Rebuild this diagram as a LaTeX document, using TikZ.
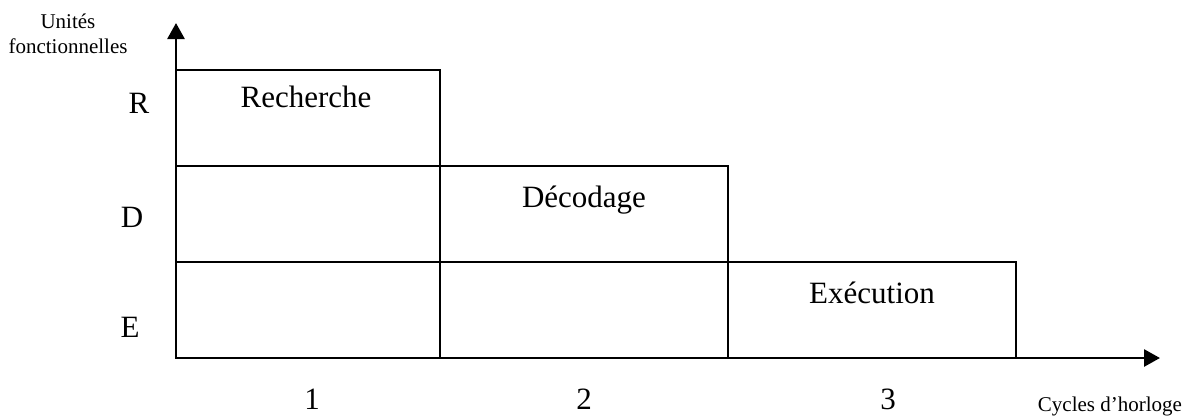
\documentclass[tikz,border=0pt]{standalone}
\usepackage{fontspec}
\setmainfont{Liberation Serif}
\usetikzlibrary{arrows.meta}
\begin{document}
\begin{tikzpicture}[x=1pt,y=-1pt,
  line/.style={line width=2.7pt},
  axis/.style={line width=2.7pt,-{Triangle[length=16pt,width=17pt]}},
  big/.style={font=\fontsize{31}{36}\selectfont,inner sep=0pt,anchor=base},
  small/.style={font=\fontsize{21}{25}\selectfont,inner sep=0pt,anchor=base}]
\useasboundingbox (0,0) rectangle (1189,416);
% coordinates
\coordinate (O) at (176,358);
\coordinate (ytip) at (176,23);
\coordinate (xtip) at (1160,358);
% boxes
\draw[line] (176,70) rectangle (440,166);
\draw[line] (176,166) rectangle (728,262);
\draw[line] (176,262) rectangle (1016,358);
\draw[line] (440,166) -- (440,358);
\draw[line] (728,262) -- (728,358);
% axes
\draw[axis] (O) -- (ytip);
\draw[axis] (O) -- (xtip);
% texts
\node[big] (rech) at (306,107) {Recherche};
\node[big] (deco) at (584,207) {Décodage};
\node[big] (exec) at (872,303) {Exécution};
\node[big] (R) at (139,113) {R};
\node[big] (D) at (132,227) {D};
\node[big] (E) at (130,337) {E};
\node[big] (n1) at (312,409) {1};
\node[big] (n2) at (584,409) {2};
\node[big] (n3) at (888,409) {3};
\node[small] (u1) at (68,28) {Unités};
\node[small] (u2) at (68,53) {fonctionnelles};
\node[small] (cyc) at (1110,411) {Cycles d’horloge};
\end{tikzpicture}
\end{document}
